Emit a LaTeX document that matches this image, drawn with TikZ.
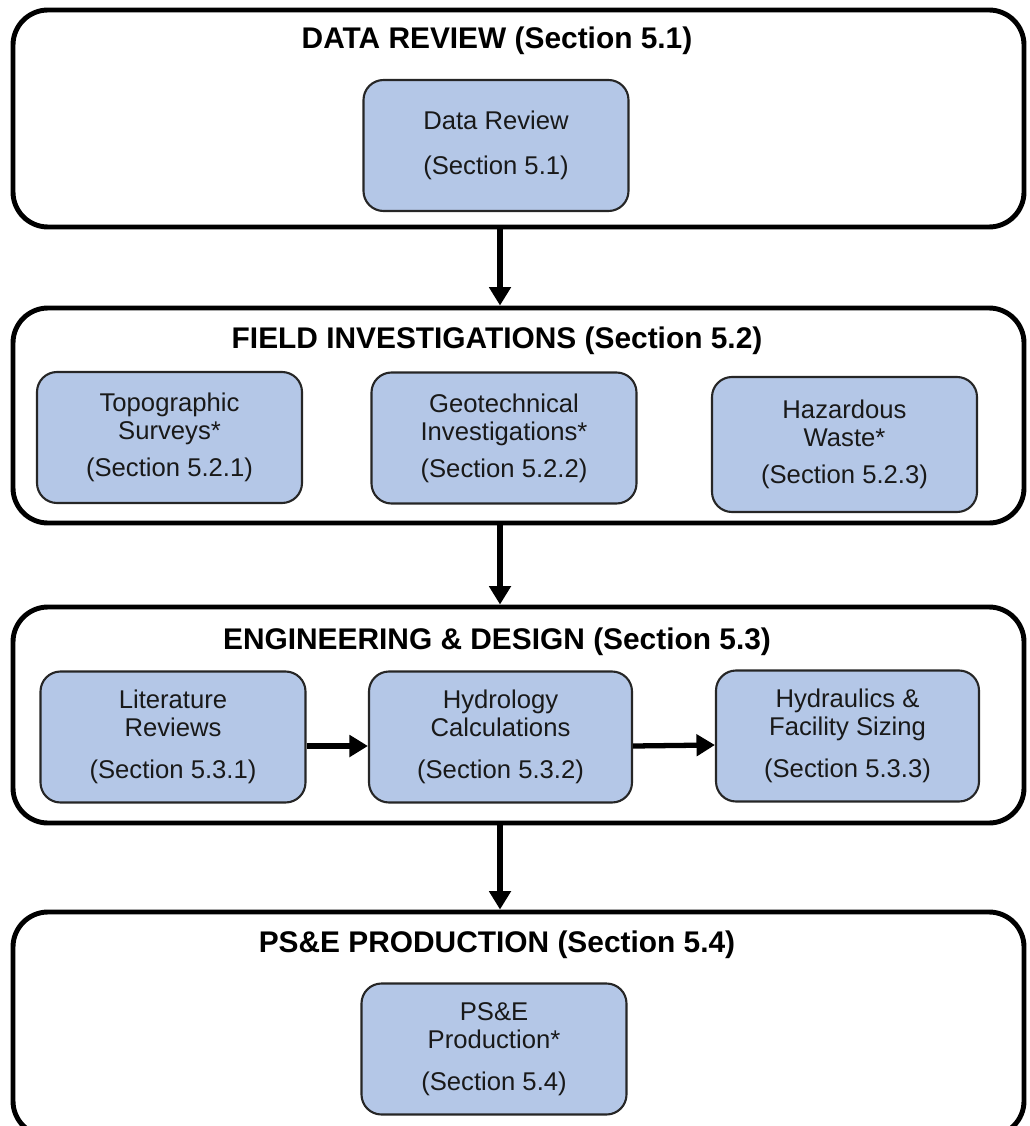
\documentclass[tikz,border=0pt]{standalone}
\usepackage{fontspec}
\setmainfont{Liberation Sans}
\usepackage{tikz}
\usetikzlibrary{shapes,arrows.meta}
\usepackage{xcolor}
\definecolor{taskblue}{HTML}{B4C7E7}

\begin{document}
\begin{tikzpicture}[
					stage/.style={draw, line width=2.8pt, rounded corners=0.7cm, minimum width=20.22cm, inner sep=0pt},
					heading/.style={font=\fontsize{17}{20}\selectfont\bfseries},
					task/.style={draw=black!85, fill=taskblue, line width=1.2pt, rounded corners=0.4cm, minimum width=5.3cm, minimum height=2.62cm, inner sep=0pt, align=center, text=black!90, font=\fontsize{14.6}{16}\selectfont},
					flow/.style={line width=3pt, -{Triangle[length=10.5pt,width=12pt]}}]
    \useasboundingbox (0,0) rectangle (20.58,-22.52);
    % Place stages
    \node [stage, minimum height=4.34cm] (S1) at (10.37,-2.37){};
    \node [stage, minimum height=4.30cm] (S2) at (10.37,-8.31){};
    \node [stage, minimum height=4.32cm] (S3) at (10.37,-14.30){};
    \node [stage, minimum height=4.48cm] (S4) at (10.37,-20.48){};
    \node [heading] (H1) at (9.94,-0.82){DATA REVIEW (Section 5.1)};
    \node [heading] (H2) at (9.94,-6.82){FIELD INVESTIGATIONS (Section 5.2)};
    \node [heading] (H3) at (9.94,-12.84){ENGINEERING \& DESIGN (Section 5.3)};
    \node [heading] (H4) at (9.94,-18.90){PS\&E PRODUCTION (Section 5.4)};
    % Place tasks
    \node [task] (DR) at (9.92,-2.91){Data Review\\[10pt](Section 5.1)};
    \node [task] (TS) at (3.39,-8.75){Topographic\\Surveys*\\[5pt](Section 5.2.1)};
    \node [task] (GI) at (10.08,-8.76){Geotechnical\\Investigations*\\[5pt](Section 5.2.2)};
    \node [task, minimum height=2.7cm] (HW) at (16.89,-8.89){Hazardous\\Waste*\\[5pt](Section 5.2.3)};
    \node [task] (LR) at (3.46,-14.74){Literature\\Reviews\\[8pt](Section 5.3.1)};
    \node [task, minimum width=5.26cm] (HC) at (10.01,-14.74){Hydrology\\Calculations\\[8pt](Section 5.3.2)};
    \node [task, minimum width=5.26cm] (HF) at (16.95,-14.72){Hydraulics \&\\Facility Sizing\\[8pt](Section 5.3.3)};
    \node [task] (PP) at (9.88,-20.98){PS\&E\\Production*\\[8pt](Section 5.4)};
    % Draw edges
    \coordinate (axis) at (10,0);
    \draw[flow] (axis |- S1.south) -- (axis |- S2.north);
    \draw[flow] (axis |- S2.south) -- (axis |- S3.north);
    \draw[flow] (axis |- S3.south) -- (axis |- S4.north);
    \draw[flow] ([yshift=-0.18cm]LR.east) -- ([yshift=-0.18cm]HC.west);
    \draw[flow] ([yshift=-0.18cm]HC.east) -- ([yshift=-0.18cm]HF.west);
\end{tikzpicture}
\end{document}
